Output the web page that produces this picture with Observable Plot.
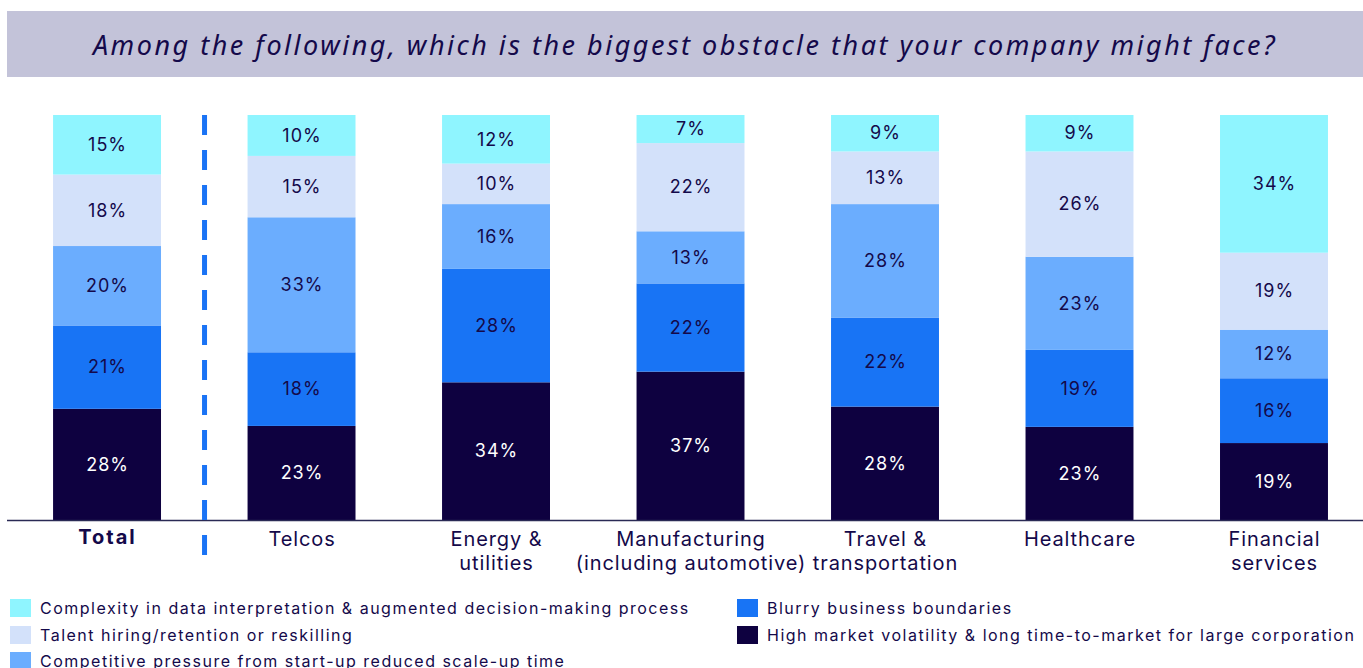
<!DOCTYPE html>
<html>
<head>
<meta charset="utf-8">
<script src="https://cdn.jsdelivr.net/npm/d3@7"></script>
<script src="https://cdn.jsdelivr.net/npm/@observablehq/plot@0.6"></script>
<style>
  html, body { margin: 0; padding: 0; background: #fff; width: 1363px; height: 668px; overflow: hidden; }
  #title { position: absolute; left: 7px; top: 11px; width: 1356px; height: 66px; background: #c3c3d9;
    display: flex; align-items: center; justify-content: center;
    font-family: "Noto Sans", sans-serif; font-style: italic; font-size: 27px; letter-spacing: 2.5px; color: #14094a; }
  #chart { position: absolute; left: 0; top: 90px; }
  #legend { position: absolute; left: 10px; top: 595px; display: grid; grid-template-columns: 727px auto;
    grid-template-rows: repeat(3, 26.5px); grid-auto-flow: column;
    font-family: Inter, sans-serif; font-size: 16px; letter-spacing: 1.5px; color: #14094a; }
  .item { display: flex; align-items: center; white-space: nowrap; }
  .sw { width: 21px; height: 18px; margin-right: 9px; flex: none; }
</style>
</head>
<body>
<div id="title">Among the following, which is the biggest obstacle that your company might face?</div>
<div id="chart"></div>
<div id="legend"></div>
<script>
const categories = ["Total", "Telcos", "Energy & utilities", "Manufacturing (including automotive)", "Travel & transportation", "Healthcare", "Financial services"];
const categoryLabels = ["Total", "Telcos", "Energy &\nutilities", "Manufacturing\n(including automotive)", "Travel &\ntransportation", "Healthcare", "Financial\nservices"];

// stacked bottom -> top
const seriesNames = [
  "High market volatility & long time-to-market for large corporation",
  "Blurry business boundaries",
  "Competitive pressure from start-up reduced scale-up time",
  "Talent hiring/retention or reskilling",
  "Complexity in data interpretation & augmented decision-making process"
];
const seriesColors = ["#0e0140", "#1874f5", "#6badfe", "#d3e1fa", "#8ff5ff"];

const highVolatility = [28, 23, 34, 37, 28, 23, 19];
const blurry         = [21, 18, 28, 22, 22, 19, 16];
const competitive    = [20, 33, 16, 13, 28, 23, 12];
const talent         = [18, 15, 10, 22, 13, 26, 19];
const complexity     = [15, 10, 12,  7,  9,  9, 34];

const seriesValues = [highVolatility, blurry, competitive, talent, complexity];
const legendOrder = [4, 3, 2, 1, 0];

const data = [];
seriesNames.forEach((s, si) => categories.forEach((c, ci) => data.push({category: c, series: s, value: seriesValues[si][ci]})));

const navy = "#14094a";
const stackOpts = {x: "category", y: "value", z: "series", order: seriesNames, offset: "normalize"};

const plot = Plot.plot({
  width: 1363,
  height: 490,
  marginTop: 25,
  marginBottom: 60,
  marginLeft: 7,
  marginRight: 0,
  x: {domain: categories, paddingInner: 0.445, paddingOuter: 0.2085, align: 0.568, round: false, axis: null},
  y: {axis: null},
  color: {domain: seriesNames, range: seriesColors},
  style: {fontFamily: "Inter, sans-serif"},
  marks: [
    Plot.barY(data, Plot.stackY({...stackOpts, fill: "series"})),
    Plot.text(data, Plot.stackY({...stackOpts, text: d => d.series === seriesNames[0] ? d.value + "%" : "", fill: "white", fontSize: 18})),
    Plot.text(data, Plot.stackY({...stackOpts, text: d => d.series !== seriesNames[0] ? d.value + "%" : "", fill: navy, fontSize: 18})),
    Plot.ruleY([0], {stroke: "#2a2a55", strokeWidth: 1.5}),
    Plot.ruleX(["Total"], {x: d => d, dx: 97, y1: 1, y2: 0, insetBottom: -35, stroke: "#1a73f5", strokeWidth: 5, strokeDasharray: "20,15"}),
    Plot.text(categories.slice(0, 1), {x: d => d, y: 0, text: (d) => categoryLabels[categories.indexOf(d)], lineAnchor: "top", dy: 9, fontSize: 20, fontWeight: "bold", fill: navy}),
    Plot.text(categories.slice(1), {x: d => d, y: 0, text: (d) => categoryLabels[categories.indexOf(d)], lineAnchor: "top", dy: 8, fontSize: 20, lineHeight: 1.2, fill: navy})
  ]
});
document.getElementById("chart").appendChild(plot);

// letter spacing on texts
plot.querySelectorAll("text").forEach(t => {
  const s = t.textContent;
  if (/%$/.test(s)) t.setAttribute("letter-spacing", "1");
  else if (s === "Total") t.setAttribute("letter-spacing", "2");
  else if (s.length) t.setAttribute("letter-spacing", "0.9");
});

const legend = document.getElementById("legend");
legendOrder.forEach(i => {
  const item = document.createElement("div");
  item.className = "item";
  const sw = document.createElement("span");
  sw.className = "sw";
  sw.style.background = seriesColors[i];
  item.appendChild(sw);
  item.appendChild(document.createTextNode(seriesNames[i]));
  legend.appendChild(item);
});
</script>
</body>
</html>
